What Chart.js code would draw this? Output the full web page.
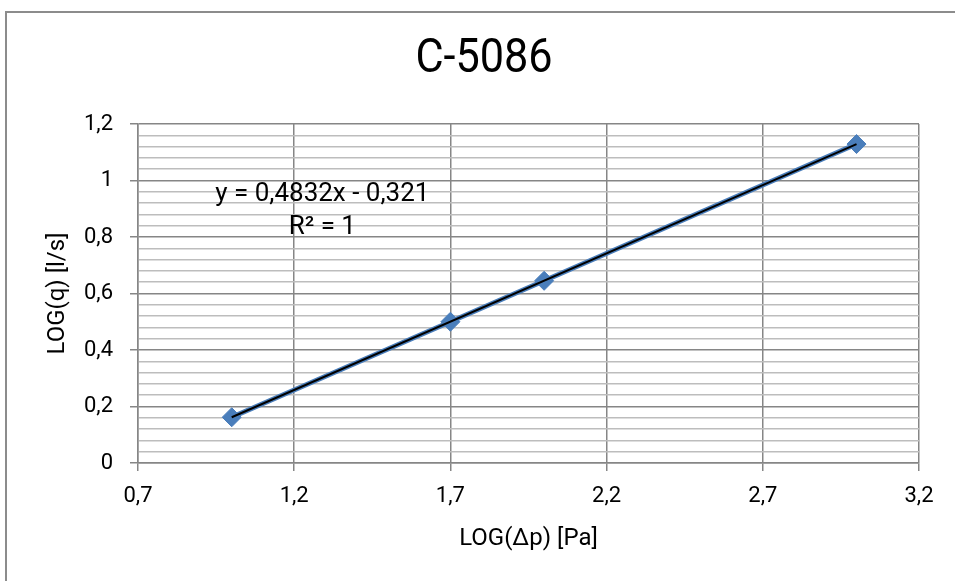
<!DOCTYPE html>
<html lang="de">
<head>
<meta charset="UTF-8">
<title>C-5086</title>
<script src="https://cdn.jsdelivr.net/npm/chart.js"></script>
<style>
    html, body { margin: 0; padding: 0; background: #fff; }
    #wrap { width: 955px; height: 581px; }
</style>
</head>
<body>
<div id="wrap"><canvas id="chart" width="955" height="581"></canvas></div>
<script>
// values
const chartTitle = 'C-5086';
const xLabel = 'LOG(Δp) [Pa]';
const yLabel = 'LOG(q) [l/s]';
const logDp = [1.0, 1.7, 2.0, 3.0];
const logQ = [0.162, 0.500, 0.645, 1.129];
const trendX = [1.0, 3.0];
const trendY = [0.162, 1.129];
const equationText = 'y = 0,4832x - 0,321';
const r2Text = 'R² = 1';
const xTicks = [0.7, 1.2, 1.7, 2.2, 2.7, 3.2];
const yTicks = [0, 0.2, 0.4, 0.6, 0.8, 1, 1.2];

const fmt = v => String(Math.round(v * 10) / 10).replace('.', ',');
const isMajorY = v => yTicks.some(t => Math.abs(t - v) < 1e-9);

const MAJOR = '#868686';
const MINOR = '#bdbdbd';

const decor = {
    id: 'decor',
    beforeDraw(chart) {
        const c = chart.ctx;
        c.save();
        c.fillStyle = '#fff';
        c.fillRect(0, 0, chart.width, chart.height);
        c.strokeStyle = '#8c8c8c';
        c.lineWidth = 2;
        c.beginPath();
        c.moveTo(6, chart.height);
        c.lineTo(6, 12);
        c.lineTo(chart.width, 12);
        c.stroke();
        c.restore();
    },
    afterDraw(chart) {
        const c = chart.ctx;
        const xs = chart.scales.x, ys = chart.scales.y;
        c.save();
        c.fillStyle = '#000';
        c.textAlign = 'center';
        c.textBaseline = 'middle';
        c.save();
        c.translate(484, 60);
        c.scale(0.9, 1);
        c.font = '48px Roboto';
        c.fillText(chartTitle, 0, 0);
        c.restore();
        c.font = '26px Roboto';
        c.fillText(equationText, xs.getPixelForValue(1.29), ys.getPixelForValue(0.952));
        c.fillText(r2Text, xs.getPixelForValue(1.29), ys.getPixelForValue(0.833));
        c.restore();
    }
};

new Chart(document.getElementById('chart'), {
    type: 'scatter',
    data: {
        datasets: [
            {
                label: 'Trend',
                data: trendX.map((x, i) => ({ x: x, y: trendY[i] })),
                showLine: true,
                borderColor: '#000',
                borderWidth: 2,
                pointRadius: 0
            },
            {
                label: 'C-5086',
                data: logDp.map((x, i) => ({ x: x, y: logQ[i] })),
                showLine: true,
                borderColor: '#4a7ebb',
                borderWidth: 5,
                pointStyle: 'rectRot',
                pointRadius: 9.5,
                pointBorderWidth: 1,
                pointBackgroundColor: '#4a7ebb',
                pointBorderColor: '#4a7ebb'
            }
        ]
    },
    options: {
        responsive: false,
        animation: false,
        devicePixelRatio: 1,
        layout: { padding: { top: 124, right: 36, left: 0, bottom: 0 } },
        plugins: {
            legend: { display: false },
            tooltip: { enabled: false }
        },
        scales: {
            x: {
                type: 'linear',
                min: 0.7,
                max: 3.2,
                afterBuildTicks: s => { s.ticks = xTicks.map(v => ({ value: v })); },
                afterFit: s => { s.height = 118; },
                grid: { color: MAJOR, lineWidth: 1.5, tickLength: 8, tickColor: MAJOR },
                border: { display: true, color: MAJOR, width: 1.5 },
                ticks: {
                    padding: 12,
                    color: '#000',
                    font: { family: 'Roboto', size: 22 },
                    maxRotation: 0,
                    callback: v => fmt(v)
                },
                title: {
                    display: true,
                    text: xLabel,
                    color: '#000',
                    font: { family: 'Roboto', size: 24 },
                    padding: { top: 27.6, bottom: 27.6 }
                }
            },
            y: {
                type: 'linear',
                min: 0,
                max: 1.2,
                afterBuildTicks: s => {
                    const t = [];
                    for (let i = 0; i < yTicks.length; i++) {
                        t.push({ value: yTicks[i] });
                        if (i < yTicks.length - 1) {
                            for (let k = 1; k < 5; k++) {
                                t.push({ value: yTicks[i] + (yTicks[i + 1] - yTicks[i]) * k / 5 });
                            }
                        }
                    }
                    s.ticks = t;
                },
                afterFit: s => { s.width = 138; },
                grid: {
                    color: ctx => isMajorY(ctx.tick.value) ? MAJOR : MINOR,
                    lineWidth: 1.5,
                    tickLength: 8,
                    tickColor: ctx => isMajorY(ctx.tick.value) ? MAJOR : 'rgba(0,0,0,0)'
                },
                border: { display: true, color: MAJOR, width: 1.5 },
                ticks: {
                    autoSkip: false,
                    padding: 17,
                    color: '#000',
                    font: { family: 'Roboto', size: 22 },
                    callback: v => isMajorY(v) ? fmt(v) : ''
                },
                title: {
                    display: true,
                    text: yLabel,
                    color: '#000',
                    font: { family: 'Roboto', size: 24 },
                    padding: { top: 43.6, bottom: 43.6 }
                }
            }
        }
    },
    plugins: [decor]
});
</script>
</body>
</html>
